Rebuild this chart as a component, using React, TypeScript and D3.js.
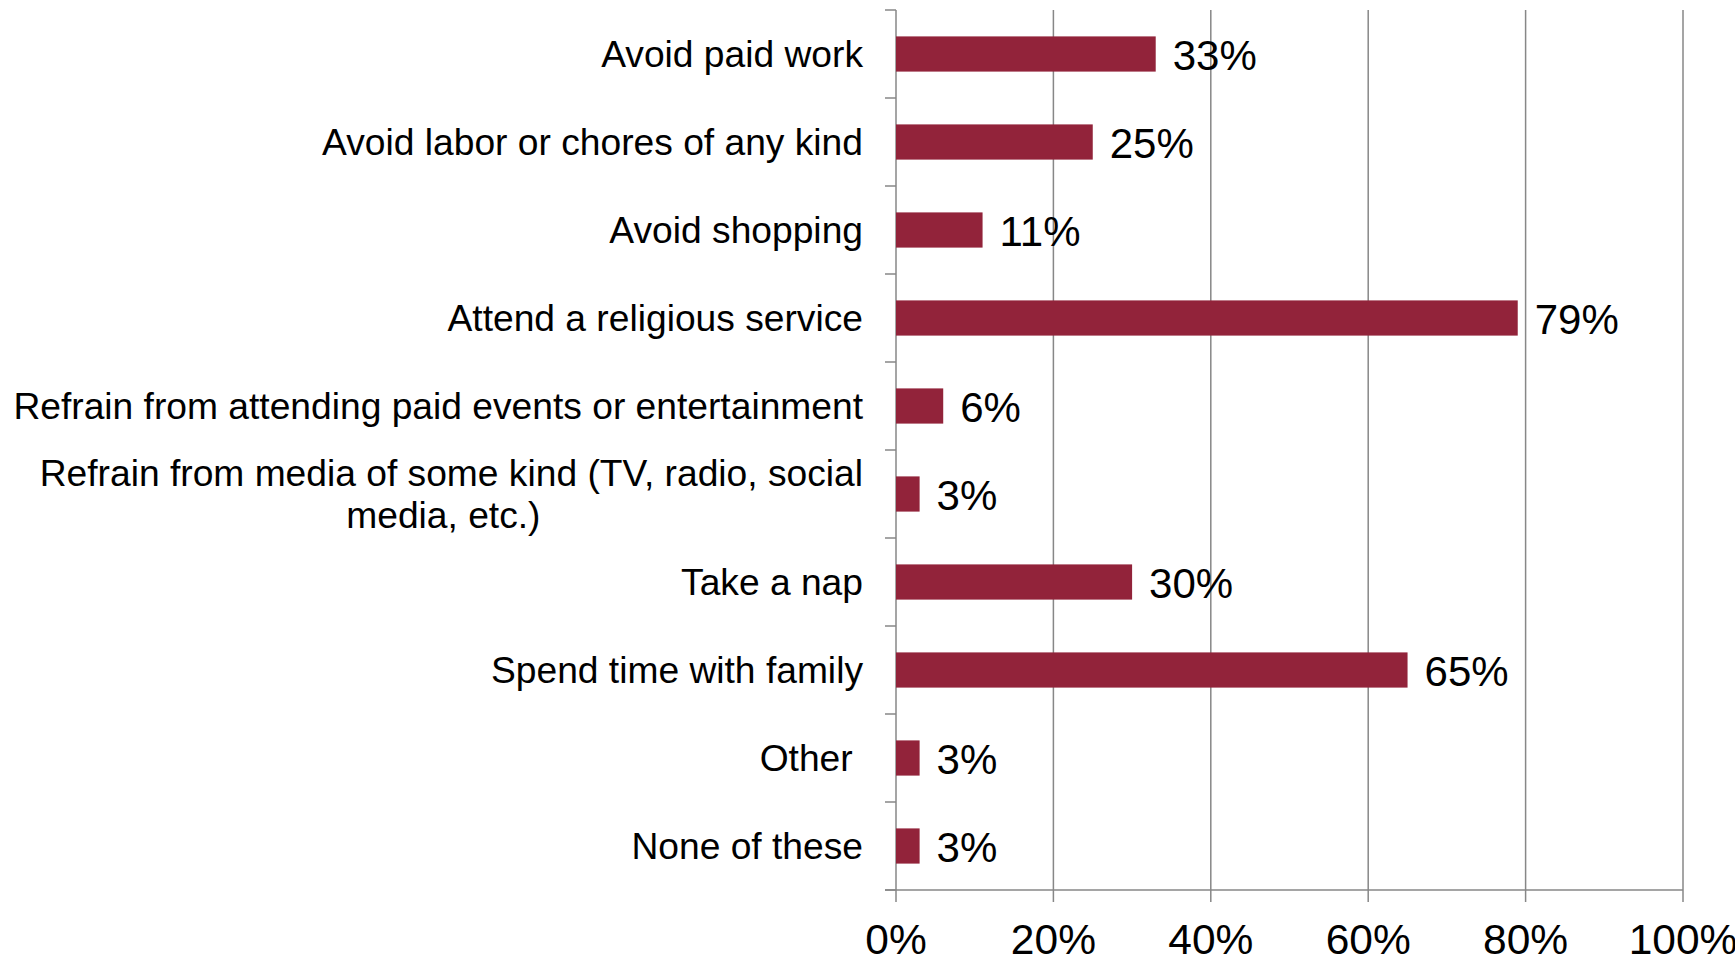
import React, { useEffect, useRef } from "react";
import * as d3 from "d3";

const categories: string[][] = [
  ["Avoid paid work"],
  ["Avoid labor or chores of any kind"],
  ["Avoid shopping"],
  ["Attend a religious service"],
  ["Refrain from attending paid events or entertainment"],
  ["Refrain from media of some kind (TV, radio, social", "media, etc.)"],
  ["Take a nap"],
  ["Spend time with family"],
  ["Other "],
  ["None of these"],
];
const values: number[] = [0.33, 0.25, 0.11, 0.79, 0.06, 0.03, 0.3, 0.65, 0.03, 0.03];
const xTicks: number[] = [0, 0.2, 0.4, 0.6, 0.8, 1.0];

const W = 1735;
const H = 958;
const BAR = "#92233A";
const GRID = "#878787";
const FONT = "'Liberation Sans', Arial, sans-serif";

export default function App() {
  const ref = useRef<SVGSVGElement>(null);

  useEffect(() => {
    document.body.style.margin = "0";
    const svg = d3.select(ref.current);
    svg.selectAll("*").remove();

    const x0 = 896, x1 = 1683, yTop = 10, yBot = 890;
    const x = d3.scaleLinear().domain([0, 1]).range([x0, x1]);
    const idx = categories.map((_, i) => String(i));
    const y = d3.scaleBand().domain(idx).range([yTop, yBot]).paddingInner(0.6).paddingOuter(0.3);
    const step = y.step();

    // gridlines
    svg.append("g")
      .selectAll("line")
      .data(xTicks.filter((t) => t > 0))
      .join("line")
      .attr("x1", (d) => x(d)).attr("x2", (d) => x(d))
      .attr("y1", yTop).attr("y2", yBot + 12)
      .attr("stroke", GRID).attr("stroke-width", 1.5);

    // bottom axis
    svg.append("line")
      .attr("x1", x0 - 11).attr("x2", x1)
      .attr("y1", yBot).attr("y2", yBot)
      .attr("stroke", GRID).attr("stroke-width", 1.5);
    svg.append("line")
      .attr("x1", x0).attr("x2", x0)
      .attr("y1", yTop).attr("y2", yBot + 12)
      .attr("stroke", GRID).attr("stroke-width", 1.5);

    // category ticks
    const boundaries = d3.range(categories.length + 1).map((i) => yTop + i * step);
    svg.append("g")
      .selectAll("line")
      .data(boundaries)
      .join("line")
      .attr("x1", x0 - 11).attr("x2", x0)
      .attr("y1", (d) => d).attr("y2", (d) => d)
      .attr("stroke", GRID).attr("stroke-width", 1.5);

    // bars
    svg.append("g")
      .selectAll("rect")
      .data(values)
      .join("rect")
      .attr("x", x0)
      .attr("y", (_, i) => y(String(i))!)
      .attr("width", (d) => x(d) - x0)
      .attr("height", y.bandwidth())
      .attr("fill", BAR);

    // value labels
    svg.append("g")
      .selectAll("text")
      .data(values)
      .join("text")
      .attr("x", (d) => x(d) + 17)
      .attr("y", (_, i) => y(String(i))! + y.bandwidth() / 2 + 16)
      .attr("font-family", FONT)
      .attr("font-size", 42)
      .attr("fill", "#000")
      .text((d) => `${Math.round(d * 100)}%`);

    // x tick labels
    svg.append("g")
      .selectAll("text")
      .data(xTicks)
      .join("text")
      .attr("x", (d) => x(d))
      .attr("y", 954)
      .attr("text-anchor", "middle")
      .attr("font-family", FONT)
      .attr("font-size", 42.5)
      .attr("fill", "#000")
      .text((d) => d3.format(".0%")(d));

    // category labels
    const labelRight = 863;
    const lineH = 42;
    const fs = 37.2;
    categories.forEach((lines, i) => {
      const cy = y(String(i))! + y.bandwidth() / 2;
      const g = svg.append("g");
      if (lines.length === 1) {
        g.append("text")
          .attr("x", labelRight)
          .attr("y", cy + 12.5)
          .attr("text-anchor", "end")
          .attr("font-family", FONT)
          .attr("font-size", fs)
          .attr("fill", "#000")
          .style("white-space", "pre")
          .text(lines[0]);
      } else {
        const first = g.append("text")
          .attr("x", labelRight)
          .attr("y", cy + 12.5 - ((lines.length - 1) * lineH) / 2)
          .attr("text-anchor", "end")
          .attr("font-family", FONT)
          .attr("font-size", fs)
          .attr("fill", "#000")
          .text(lines[0]);
        const w = (first.node() as SVGTextElement).getComputedTextLength();
        const cx = labelRight - w / 2 - 8;
        lines.slice(1).forEach((ln, j) => {
          g.append("text")
            .attr("x", cx)
            .attr("y", cy + 12.5 - ((lines.length - 1) * lineH) / 2 + (j + 1) * lineH)
            .attr("text-anchor", "middle")
            .attr("font-family", FONT)
            .attr("font-size", fs)
            .attr("fill", "#000")
            .text(ln);
        });
      }
    });
  }, []);

  return <svg ref={ref} width={W} height={H} style={{ display: "block", background: "#fff" }} />;
}
